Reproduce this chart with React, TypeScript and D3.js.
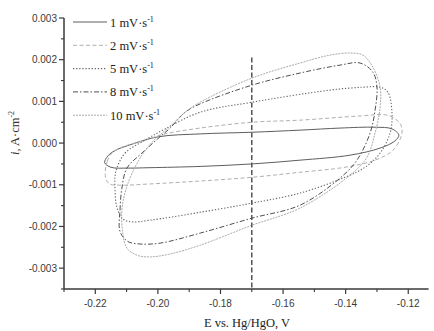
import React from "react";
import * as d3 from "d3";

const W = 434;
const H = 331;

const seriesLabels = ["1", "2", "5", "8", "10"];

// [E (V), i (A/cm2)] points around each closed CV loop
const cv1: [number, number][] = [
  [-0.2170, -0.00047], [-0.2160, -0.00031], [-0.2137, -0.00018], [-0.2096, -0.00006],
  [-0.1999, 0.00015], [-0.1865, 0.00022], [-0.1699, 0.00026], [-0.1546, 0.00031],
  [-0.1418, 0.00036], [-0.1306, 0.00038], [-0.1252, 0.00034], [-0.1230, 0.00019],
  [-0.1243, 0.00005], [-0.1290, -0.00012], [-0.1386, -0.00029], [-0.1546, -0.00041],
  [-0.1699, -0.0005], [-0.1865, -0.00056], [-0.2025, -0.00059], [-0.2096, -0.0006],
  [-0.2150, -0.00058],
];
const cv2: [number, number][] = [
  [-0.2168, -0.00068], [-0.2162, -0.00044], [-0.2147, -0.00024], [-0.2115, -0.00010],
  [-0.2041, 0.00007], [-0.1977, 0.00022], [-0.1865, 0.00036], [-0.1699, 0.0005],
  [-0.1546, 0.00055], [-0.1354, 0.00065], [-0.1268, 0.00067], [-0.1227, 0.00048],
  [-0.1220, 0.00024], [-0.1249, -0.00017], [-0.1306, -0.00041], [-0.1402, -0.00058],
  [-0.1546, -0.0007], [-0.1699, -0.00082], [-0.1865, -0.00091], [-0.2025, -0.00098],
  [-0.2121, -0.00101], [-0.2155, -0.00098], [-0.2166, -0.00086],
];
const cv3: [number, number][] = [
  [-0.2131, -0.0006], [-0.2105, -0.00024], [-0.2041, 0.00007], [-0.1977, 0.00034],
  [-0.1865, 0.00074], [-0.1699, 0.00098], [-0.1450, 0.00127], [-0.1345, 0.00134],
  [-0.1290, 0.00134], [-0.1265, 0.00122], [-0.1252, 0.00072], [-0.1258, 0.00024],
  [-0.1290, -0.00024], [-0.1338, -0.00058], [-0.1402, -0.00082], [-0.1546, -0.0012],
  [-0.1699, -0.00144], [-0.1865, -0.00166], [-0.2025, -0.00185], [-0.2083, -0.00189],
  [-0.2112, -0.00182], [-0.2131, -0.00154], [-0.2137, -0.00110], [-0.2137, -0.00080],
];
const cv4: [number, number][] = [
  [-0.2121, -0.00212], [-0.2121, -0.00161], [-0.2115, -0.00108], [-0.2099, -0.0006],
  [-0.2051, -0.00024], [-0.2001, 0.00010], [-0.1961, 0.00036], [-0.1913, 0.00074],
  [-0.1865, 0.00094], [-0.1699, 0.00139], [-0.1546, 0.00168], [-0.1418, 0.00187],
  [-0.1354, 0.00192], [-0.1313, 0.0017], [-0.1300, 0.00134], [-0.1306, 0.00079],
  [-0.1322, 0.00024], [-0.1364, -0.00041], [-0.1418, -0.00084], [-0.1546, -0.00149],
  [-0.1699, -0.0018], [-0.1865, -0.00216], [-0.1993, -0.0024], [-0.2057, -0.00242],
  [-0.2096, -0.00236],
];
const cv5: [number, number][] = [
  [-0.2112, -0.00216], [-0.2115, -0.00160], [-0.2099, -0.00104], [-0.2061, -0.00041],
  [-0.2015, 0.00005], [-0.1961, 0.00040], [-0.1913, 0.00074], [-0.1865, 0.00098],
  [-0.1699, 0.00156], [-0.1546, 0.00192], [-0.1450, 0.00211], [-0.1386, 0.00216],
  [-0.1345, 0.00211], [-0.1313, 0.00182], [-0.1290, 0.00134], [-0.1290, 0.00086],
  [-0.1306, 0.00024], [-0.1332, -0.00034], [-0.1386, -0.00077], [-0.1546, -0.00156],
  [-0.1699, -0.00197], [-0.1865, -0.00245], [-0.1961, -0.00266], [-0.2025, -0.00273],
  [-0.2067, -0.00269], [-0.2099, -0.00252],
];
const loops = [cv1, cv2, cv3, cv4, cv5];

const xTicks = [-0.22, -0.2, -0.18, -0.16, -0.14, -0.12];
const xMinor = [-0.23, -0.21, -0.19, -0.17, -0.15, -0.13];
const yTicks = [0.003, 0.002, 0.001, 0, -0.001, -0.002, -0.003];
const yMinor = [0.0025, 0.0015, 0.0005, -0.0005, -0.0015, -0.0025, -0.0035];
const markerE = -0.17;
const markerTop = 0.00205;

const styles = [
  { stroke: "#5e5e5e", dash: "none", w: 1 },
  { stroke: "#b0b0b0", dash: "4 2.5", w: 1 },
  { stroke: "#666666", dash: "1.3 1.8", w: 1.1 },
  { stroke: "#505050", dash: "5 2 1.5 2", w: 1 },
  { stroke: "#ababab", dash: "2 1", w: 1 },
];

export default function App() {
  const x = d3.scaleLinear().domain([-0.23, -0.1135]).range([64, 428.6]);
  const y = d3.scaleLinear().domain([-0.0035, 0.003]).range([289, 18]);
  const line = d3
    .line<[number, number]>()
    .x((d) => x(d[0]))
    .y((d) => y(d[1]))
    .curve(d3.curveCatmullRomClosed.alpha(0.5));
  const axisColor = "#3a3a3a";
  const serif = "'Liberation Serif', 'Times New Roman', serif";
  const sans = "'Liberation Sans', Arial, sans-serif";
  return (
    <svg width={W} height={H} style={{ position: "absolute", left: 0, top: 0, background: "#fff" }}>
      <rect width={W} height={H} fill="#fff" />
      {loops.map((pts, k) => (
        <path
          key={k}
          d={line(pts) || ""}
          fill="none"
          stroke={styles[k].stroke}
          strokeWidth={styles[k].w}
          strokeDasharray={styles[k].dash}
        />
      ))}
      <line
        x1={x(markerE)}
        x2={x(markerE)}
        y1={y(markerTop)}
        y2={y(-0.0035)}
        stroke="#555"
        strokeWidth={1.5}
        strokeDasharray="5 2.5"
      />
      {/* axes */}
      <line x1={x(-0.23)} x2={x(-0.1135)} y1={289} y2={289} stroke={axisColor} strokeWidth={1.5} />
      <line x1={64} x2={64} y1={y(0.003)} y2={289} stroke={axisColor} strokeWidth={1.5} />
      {xTicks.map((t) => (
        <g key={t}>
          <line x1={x(t)} x2={x(t)} y1={289} y2={294} stroke={axisColor} strokeWidth={1.2} />
          <text x={x(t)} y={307} textAnchor="middle" fontFamily={sans} fontSize={10} fill="#3a3a3a">
            {t.toFixed(2)}
          </text>
        </g>
      ))}
      {xMinor.map((t) => (
        <line key={t} x1={x(t)} x2={x(t)} y1={289} y2={292} stroke={axisColor} strokeWidth={1.1} />
      ))}
      {yTicks.map((t) => (
        <g key={t}>
          <line x1={59} x2={64} y1={y(t)} y2={y(t)} stroke={axisColor} strokeWidth={1.2} />
          <text x={57} y={y(t) + 3.5} textAnchor="end" fontFamily={sans} fontSize={10} fill="#3a3a3a">
            {t.toFixed(3)}
          </text>
        </g>
      ))}
      {yMinor.map((t) => (
        <line key={t} x1={61} x2={64} y1={y(t)} y2={y(t)} stroke={axisColor} strokeWidth={1.1} />
      ))}
      <text x={247} y={327} textAnchor="middle" fontFamily={serif} fontSize={12.5} fill="#222">
        E vs. Hg/HgO, V
      </text>
      <text
        transform={`translate(19, ${133}) rotate(-90)`}
        textAnchor="middle"
        fontFamily={serif}
        fontSize={12.5}
        fill="#333"
      >
        <tspan fontStyle="italic">i</tspan>, A·cm
        <tspan dy={-5} fontSize={8}>-2</tspan>
      </text>
      {/* legend */}
      {seriesLabels.map((lab, k) => {
        const ly = 22 + 23.3 * k;
        return (
          <g key={lab}>
            <line
              x1={73}
              x2={107}
              y1={ly}
              y2={ly}
              stroke={styles[k].stroke}
              strokeWidth={styles[k].w}
              strokeDasharray={styles[k].dash}
            />
            <text x={110} y={ly + 4.5} fontFamily={serif} fontSize={12.5} fill="#222">
              {lab} mV·s
              <tspan dy={-5} fontSize={8}>-1</tspan>
            </text>
          </g>
        );
      })}
    </svg>
  );
}
